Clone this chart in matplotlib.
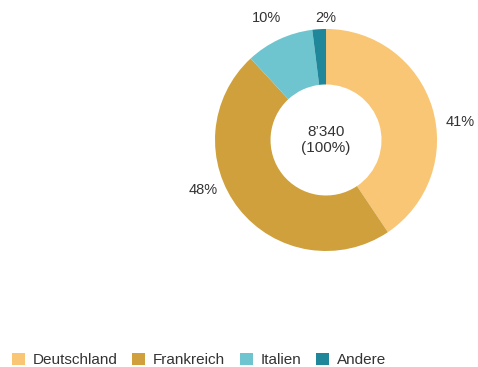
import matplotlib.pyplot as plt
from matplotlib.patches import Patch

plt.rcParams['font.family'] = ['Liberation Sans', 'DejaVu Sans']

# Anteile nach Land
laender = ['Deutschland', 'Frankreich', 'Italien', 'Andere']
anteile = [41, 48, 10, 2]
farben = ['#F9C676', '#CFA03B', '#6EC5CF', '#1F8799']
total = "8’340"
# Positionen der Prozent-Beschriftungen (Einheiten des Kreisradius)
label_pos = [(1.21, 0.16), (-1.11, -0.45), (-0.54, 1.10), (0.0, 1.10)]

fig = plt.figure(figsize=(4.78, 3.67), dpi=100)
ax = fig.add_axes([0, 0, 1, 1])

wedges, _ = ax.pie(anteile, colors=farben, startangle=90, counterclock=False,
                   radius=1, wedgeprops=dict(width=0.5, linewidth=0))

for (x, y), a in zip(label_pos, anteile):
    ax.text(x, y, '{}%'.format(a), ha='center', va='center', fontsize=10.5, color='#333333')

ax.text(0, 0, '{}\n(100%)'.format(total), ha='center', va='center',
        fontsize=11, color='#333333', linespacing=1.2)

ax.set_xlim(-2.937, 1.369)
ax.set_ylim(-2.045, 1.261)
ax.set_aspect('auto')
ax.axis('off')

handles = [Patch(facecolor=c, edgecolor='none') for c in farben]
leg = fig.legend(handles, laender, loc='center left', bbox_to_anchor=(0.025, 1 - 360 / 367),
                 ncol=4, frameon=False, fontsize=11, handlelength=0.85, handleheight=0.85,
                 handletextpad=0.5, columnspacing=0.98, borderaxespad=0, borderpad=0)
for t in leg.get_texts():
    t.set_color('#333333')

fig.savefig('out.png', dpi=100)
